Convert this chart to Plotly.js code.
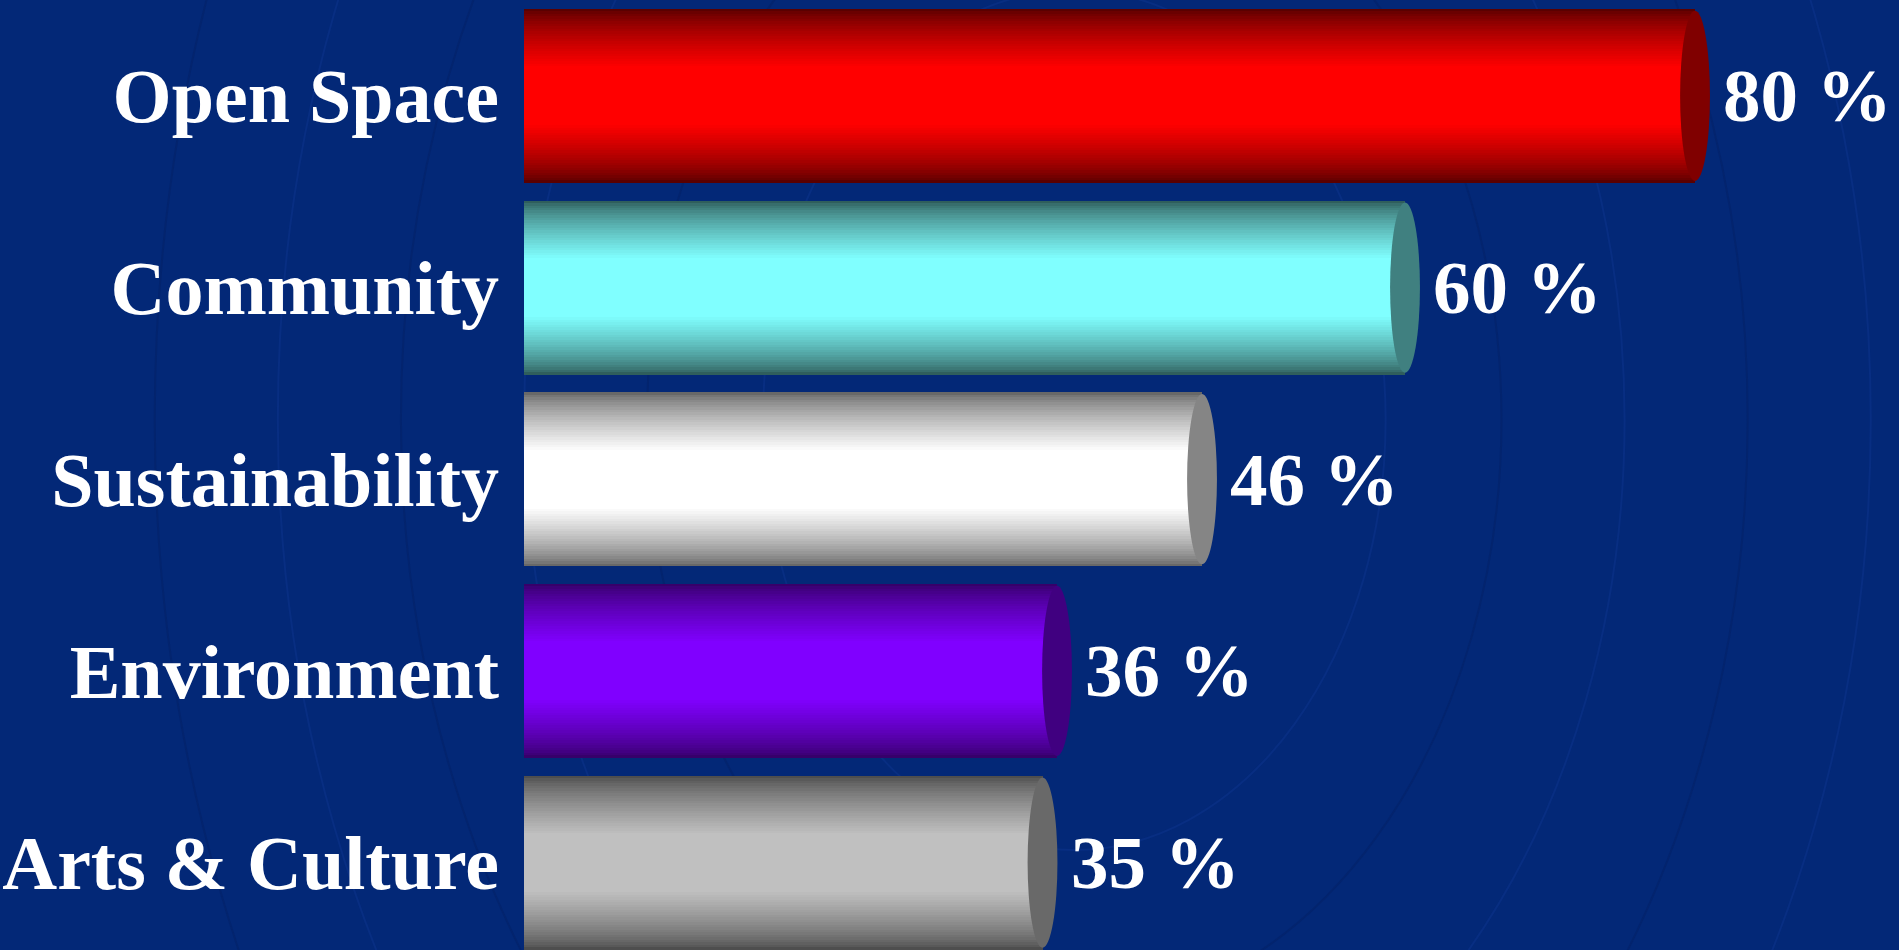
<!DOCTYPE html>
<html>
<head>
<meta charset="utf-8">
<script src="https://cdn.plot.ly/plotly-3.0.1.min.js"></script>
<style>
  html, body { margin: 0; padding: 0; background: #032877; }
  #chart { width: 1899px; height: 950px; }
</style>
</head>
<body>
<div id="chart"></div>
<script>
// ---- data (top to bottom) ----
const categories = ['Open Space', 'Community', 'Sustainability', 'Environment', 'Arts & Culture'];
const percentValues = [80, 60, 46, 36, 35];
const valueSuffix = ' %';

// ---- styles ----
const edgeColors   = ['#5a0000', '#2f5e5c', '#686868', '#36006a', '#4e4e4e'];
const brightColors = ['#ff0000', '#80ffff', '#ffffff', '#8000ff', '#c0c0c0'];
const capColors    = ['#800000', '#408080', '#858585', '#400080', '#696969'];

const BAR_W = 0.908;      // bar thickness in category units
const BASE = -0.76;       // where the cylinder starts
const CAP_HALF = 1.03;    // half width of the end cap ellipse (x units)
const LAYERS = 24;
const CORE = 0.34;        // fraction of thickness that is fully bright

function hexToRgb(h) {
  const n = parseInt(h.slice(1), 16);
  return [(n >> 16) & 255, (n >> 8) & 255, n & 255];
}
function mix(a, b, t) {
  const A = hexToRgb(a), B = hexToRgb(b);
  return 'rgb(' + A.map((v, i) => Math.round(v + (B[i] - v) * t)).join(',') + ')';
}

const traces = [];
for (let j = 0; j < LAYERS; j++) {
  const f = j / (LAYERS - 1);
  const width = BAR_W * (1 - (1 - CORE) * f);
  const t = Math.pow(f, 0.75);
  traces.push({
    type: 'bar',
    orientation: 'h',
    y: categories,
    x: percentValues.map(v => v - BASE),
    base: BASE,
    width: width,
    marker: { color: categories.map((c, i) => mix(edgeColors[i], brightColors[i], t)), line: { width: 0 } },
    hoverinfo: 'skip',
    showlegend: false
  });
}

// faint swirl texture in the background
const swirl = [];
[430, 590, 760, 930, 1100, 1270].forEach((r, k) => {
  swirl.push({
    type: 'circle', xref: 'paper', yref: 'paper', layer: 'below',
    x0: (760 - r) / 1899, x1: (760 + r) / 1899,
    y0: (950 - 420 - r) / 950, y1: (950 - 420 + r) / 950,
    line: { color: k % 2 ? 'rgba(5,30,100,0.45)' : 'rgba(25,65,165,0.25)', width: 2 },
    fillcolor: 'rgba(0,0,0,0)'
  });
});

const caps = percentValues.map((v, i) => ({
  type: 'circle', xref: 'x', yref: 'y',
  x0: v - CAP_HALF, x1: v + CAP_HALF,
  y0: i - BAR_W / 2 + 0.01, y1: i + BAR_W / 2 - 0.01,
  fillcolor: capColors[i], line: { width: 0 }, layer: 'above'
}));

const annotations = percentValues.map((v, i) => ({
  x: v, y: categories[i], xref: 'x', yref: 'y',
  text: v + valueSuffix, showarrow: false,
  xanchor: 'left', yanchor: 'middle', xshift: 26,
  font: { family: 'Liberation Serif, Times New Roman, serif', size: 75, color: '#ffffff', weight: 'bold' }
}));

const layout = {
  width: 1899, height: 950,
  margin: { l: 524, r: 0, t: 0, b: 0, pad: 0 },
  paper_bgcolor: '#032877',
  plot_bgcolor: 'rgba(0,0,0,0)',
  barmode: 'overlay',
  bargap: 0,
  showlegend: false,
  xaxis: {
    range: [BASE, BASE + 1375 / 14.5],
    showgrid: false, zeroline: false, showticklabels: false, showline: false, ticks: ''
  },
  yaxis: {
    type: 'category',
    categoryorder: 'array', categoryarray: categories,
    range: [4.456, -0.5],
    showgrid: false, zeroline: false, showline: false, ticks: '',
    ticklabelstandoff: 24,
    tickfont: { family: 'Liberation Serif, Times New Roman, serif', size: 76, color: '#ffffff', weight: 'bold' }
  },
  shapes: swirl.concat(caps),
  annotations: annotations
};

Plotly.newPlot('chart', traces, layout, { displayModeBar: false, staticPlot: true });
</script>
</body>
</html>
